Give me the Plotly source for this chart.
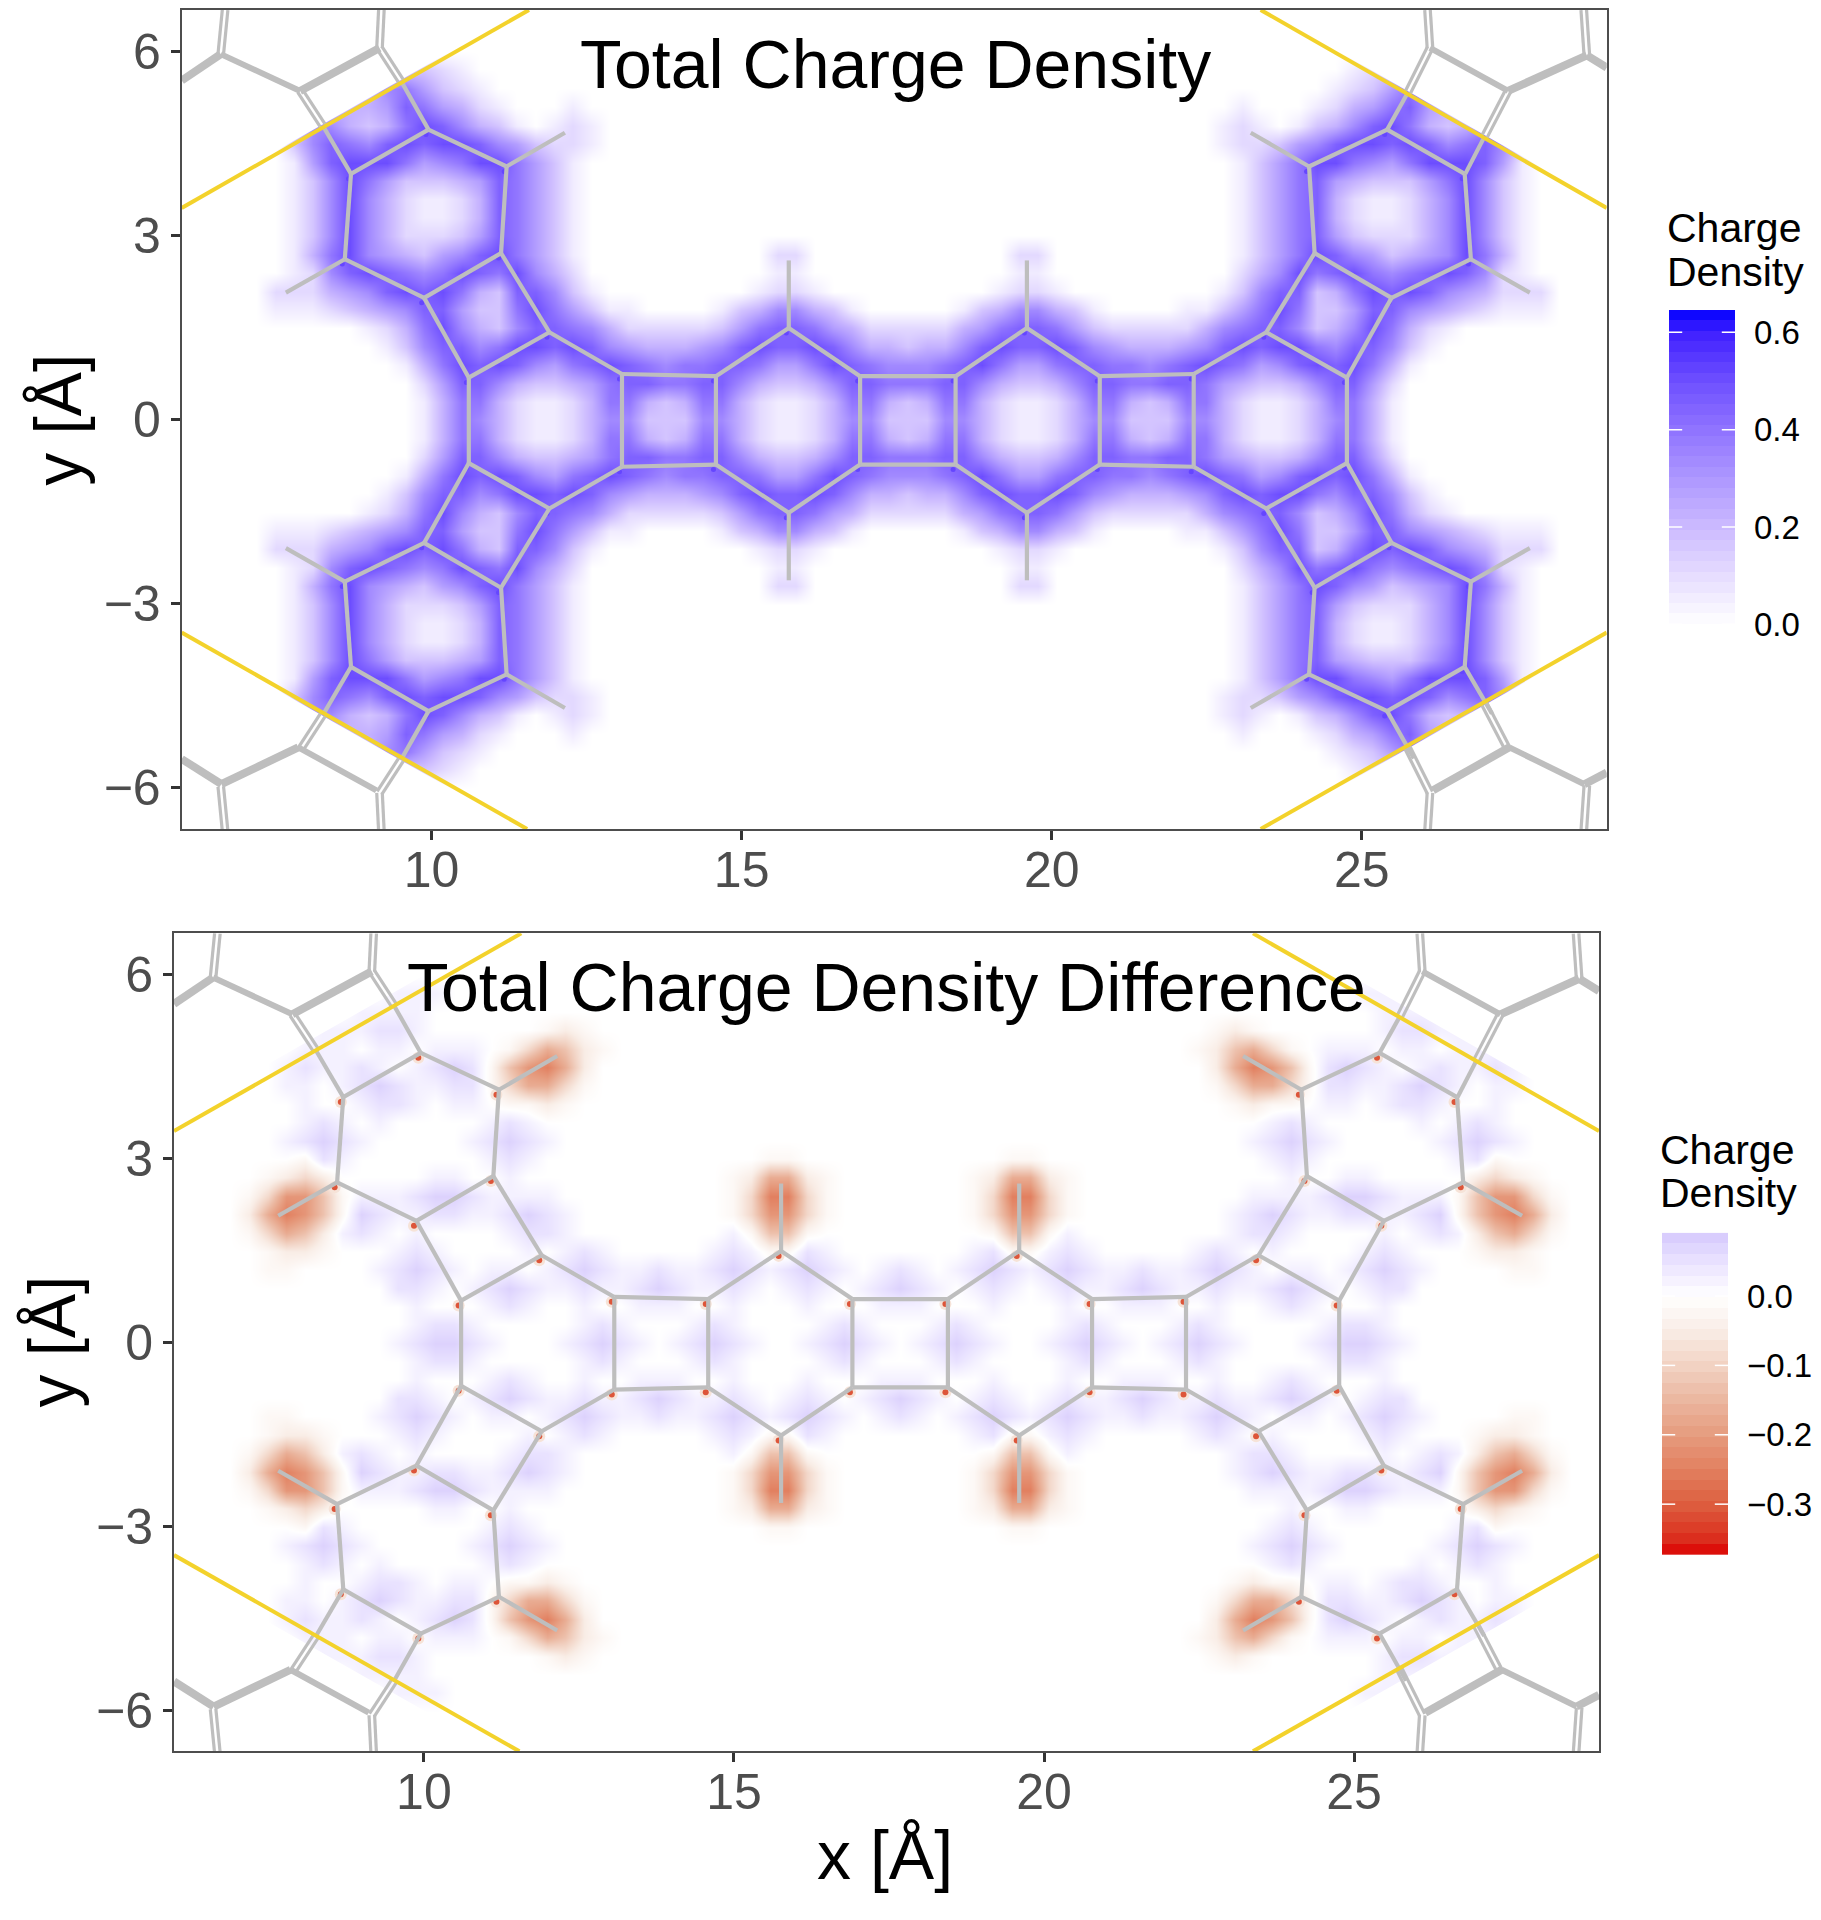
import plotly.graph_objects as go

# Density fields: one quadrant of each map at
# 0.3 A steps (coarse hand-read grid; one character per cell, shown mirrored because
# the picture is mirror-symmetric). Rows run y = 0.0, 0.3 ... upward; columns x = 7.18 ... 17.68.
TOTAL_ROWS = [
    "000000000" + "147642112466333664211246633",
    "000000000" + "147742112477434774211247743",
    "000000000" + "258864334578877886433468877",
    "000000001479898657898767788755798766",
    "000000013688679989865444568988986443",
    "000000" + "124796436887642222235788754222",
    "011123456" + "88" + "533" + "7975311000013466431000",
    "0222456898" + "9743886310" + "0000000122" + "100000",
    "0012689876" + "798796420" + "000000000" + "11" + "000000",
    "0014796543" + "568975310" + "000000000" + "22" + "000000",
    "0013696422235875310",
    "0013696421124875310",
    "0013696421124875310",
    "0013697533345875310",
    "0015899975679975310",
    "0036876898998653221",
    "0036643479864310121",
    "0003444587542100010",
    "0000034675321",
    "000000003321",
    "", "", "",
]
TOTAL_LEVEL = {str(d): d * 0.056 for d in range(10)}

DIFF_ROWS = [
    "000000001233210001232101232100123210",
    "000000000122100000121000121000012100",
    "000000000100012100100111001000100011",
    "000000002210123211211232112101210123",
    "0aa0000" + "12321011012321121123212321012",
    "0abba000" + "121" + "0000" + "1" + "0" + "121" + "00000" + "121" + "aa" + "21" + "0000",
    "acedb" + "121" + "0" + "1" + "0000" + "1221" + "00000000" + "1" + "adda" + "00000",
    "begfda" + "321122112321" + "00000000" + "acffca" + "0000",
    "acffda" + "11123321111" + "000000000" + "acggca" + "0000",
    "0abcb0" + "0000" + "11" + "00" + "1" + "00000000000" + "abeeba" + "0000",
    "000a21" + "0000000" + "121" + "000000000000" + "aa" + "000000",
    "00123210000012321",
    "0001210100000121",
    "0001001221011" + "0aaba0",
    "0011012321122" + "aceeca",
    "0012112101232" + "adfgeb",
    "000" + "111" + "0" + "11" + "0" + "111" + "0" + "acedba",
    "0000" + "111221" + "000000" + "aba",
    "0000001111",
    "00000000111",
    "", "", "",
]
DIFF_LEVEL = {"0": 0.0, "1": 0.025, "2": 0.05, "3": 0.075,
              "a": -0.02, "b": -0.05, "c": -0.09, "d": -0.13, "e": -0.17, "f": -0.21, "g": -0.25}

GRID_X0, GRID_STEP, GRID_COLS = 7.18, 0.3, 36
MIRROR_X, MIRROR_Y = 35.36, -0.03

# Molecule, top-left quadrant
ATOMS = {"a": (10.6, 0.68), "b": (11.9, 1.42), "c": (13.07, 0.74), "d": (14.585, 0.705),
         "e": (15.76, 1.49), "f": (16.91, 0.705), "g": (11.12, 2.71), "h": (9.88, 1.98),
         "i": (8.6, 2.61), "j": (8.7, 4.0), "k": (9.95, 4.72), "l": (11.21, 4.12),
         "H1": (15.76, 2.59), "H2": (7.65, 2.065), "H3": (12.15, 4.67),
         "s": (8.26, 4.76), "t": (9.52, 5.49)}
BONDS = ["ab", "bc", "cd", "de", "ef", "ah", "bg", "gh", "hi", "ij", "jk", "kl", "lg", "js", "kt"]
H_BONDS = [("e", "H1"), ("i", "H2"), ("l", "H3")]
Y_CROSS = ["a", "c", "d", "f"]
X_CROSS = ["f"]
CARBONS = list("abcdefghijkl")

# Periodic images outside the cell
DOUBLE_TOP_LEFT = [((8.26, 4.76), (7.88, 5.35)), ((9.52, 5.49), (9.16, 6.05)),
                   ((6.6, 5.95), (6.67, 6.67)), ((9.16, 6.05), (9.19, 6.67))]
DOUBLE_TOP_RIGHT = [((26.96, 4.57), (27.36, 5.35)), ((25.73, 5.3), (26.1, 6.05)),
                    ((26.1, 6.05), (26.06, 6.67)), ((28.63, 5.93), (28.58, 6.67))]
RIGHT_TOP_SINGLE = [((26.67, 4.0), (26.96, 4.57)), ((25.41, 4.72), (25.73, 5.3))]
WIDE_LINKS = [((7.88, 5.35), (9.16, 6.05)), ((5.97, 5.52), (6.6, 5.95)),
              ((7.85, -5.34), (6.61, -5.94)), ((5.97, -5.53), (6.61, -5.94)),
              ((27.36, 5.35), (28.63, 5.93)), ((28.63, 5.93), (28.95, 5.73)),
              ((26.15, -6.04), (27.38, -5.34)), ((28.59, -5.94), (28.95, -5.75))]
MID_LINKS = [((6.6, 5.95), (7.88, 5.35)), ((7.85, -5.34), (9.11, -6.04)),
             ((26.1, 6.05), (27.36, 5.35)), ((27.38, -5.34), (28.59, -5.94))]

YELLOW = [((5.97, 3.445), (11.57, 6.67)), ((5.97, -3.47), (11.54, -6.67)),
          ((28.95, 3.445), (23.37, 6.67)), ((28.95, -3.47), (23.37, -6.67))]

X_RANGE = [5.97, 28.95]
Y_RANGE = [-6.67, 6.67]
XTICKS = [10, 15, 20, 25]
YTICKS = [-6, -3, 0, 3, 6]

CB1_MAX, CB1_TICKS = 0.646, [0.0, 0.2, 0.4, 0.6]
CB2_MIN, CB2_MAX, CB2_TICKS = -0.3735, 0.0913, [0.0, -0.1, -0.2, -0.3]
CB_BINS = 30

BLUE_STOPS = [(0, "#FFFFFF"), (0.155, "#E6DDFF"), (0.31, "#CBB9FF"), (0.465, "#AD97FF"),
              (0.62, "#8F73FF"), (0.775, "#6E4FFF"), (0.93, "#3F1FFF"), (1, "#0000FF")]
DIFF_STOPS = [(-0.3735, "#DD0000"), (-0.35, "#DB2F1E"), (-0.3, "#DD5F40"), (-0.25, "#E28060"),
              (-0.2, "#E69C7F"), (-0.15, "#EBB7A0"), (-0.1, "#F2D3C4"), (-0.05, "#F9EDE6"),
              (0, "#FFFFFF"), (0.05, "#E9E2FF"), (0.0913, "#D5C8FC"), (0.2, "#AD97FF"), (0.3735, "#0000FF")]

W, H = 1821, 1920
FONT = "Liberation Sans"
GREY = "#BEBEBE"
GOLD = "#F3D22B"


def full_field(rows, level):
    q = [[0.0] + [level[c] for c in r.ljust(GRID_COLS, "0")] for r in rows]
    q = [r + r[-2::-1] for r in q]
    return q[:0:-1] + q


def lines(segs, width, color, xa, ya):
    xs, ys = [], []
    for p, q in segs:
        xs += [p[0], q[0], None]
        ys += [p[1], q[1], None]
    return go.Scatter(x=xs, y=ys, mode="lines", line=dict(color=color, width=width),
                      xaxis=xa, yaxis=ya, hoverinfo="skip", showlegend=False)


def mirrors(p):
    return [p, (MIRROR_X - p[0], p[1]), (p[0], MIRROR_Y - p[1]), (MIRROR_X - p[0], MIRROR_Y - p[1])]


def molecule_segments(names):
    out = []
    for a, b in names:
        out += list(zip(mirrors(ATOMS[a]), mirrors(ATOMS[b])))
    return out


def cross_segments():
    out = []
    for n in Y_CROSS:
        m = mirrors(ATOMS[n])
        out += [(m[0], m[2]), (m[1], m[3])]
    for n in X_CROSS:
        m = mirrors(ATOMS[n])
        out += [(m[0], m[1]), (m[2], m[3])]
    return out


def doubled(segs, gap=0.045):
    out = []
    for p, q in segs:
        dx, dy = q[0] - p[0], q[1] - p[1]
        ln = (dx * dx + dy * dy) ** 0.5
        nx, ny = -dy / ln * gap, dx / ln * gap
        out.append(((p[0] + nx, p[1] + ny), (q[0] + nx, q[1] + ny)))
        out.append(((p[0] - nx, p[1] - ny), (q[0] - nx, q[1] - ny)))
    return out


def flip_y(segs):
    return [((p[0], MIRROR_Y - p[1]), (q[0], MIRROR_Y - q[1])) for p, q in segs]


def mask_polygon(seg, dy):
    p, q = seg
    sy = 1 if p[1] > 0 else -1
    sx = 1 if q[0] > p[0] else -1
    xs = [p[0], q[0] - sx * dy / 0.576, p[0], p[0]]
    ys = [p[1] + sy * dy, q[1], q[1], p[1] + sy * dy]
    return xs, ys


gx = [GRID_X0 - GRID_STEP + GRID_STEP * i for i in range(2 * GRID_COLS + 1)]
gy = [round(-0.015 + GRID_STEP * k, 3) for k in range(-(len(TOTAL_ROWS) - 1), len(TOTAL_ROWS))]

fig = go.Figure()


def add_panel(field, coloraxis, xa, ya, mask_dy, dot_groups):
    fig.add_trace(go.Heatmap(x=gx, y=gy, z=field, coloraxis=coloraxis, zsmooth="best",
                             xaxis=xa, yaxis=ya, hoverinfo="skip"))
    for seg in YELLOW:
        mx, my = mask_polygon(seg, mask_dy)
        fig.add_trace(go.Scatter(x=mx, y=my, mode="lines", fill="toself", fillcolor="white",
                                 line=dict(width=0, color="white"), xaxis=xa, yaxis=ya,
                                 hoverinfo="skip", showlegend=False))
    dx, dy = [], []
    for n in CARBONS:
        for p in mirrors(ATOMS[n]):
            dx.append(p[0] - 0.04)
            dy.append(p[1] - 0.08)
    for size, val in dot_groups:
        fig.add_trace(go.Scatter(x=dx, y=dy, mode="markers",
                                 marker=dict(size=size, color=[val] * len(dx), coloraxis=coloraxis, line=dict(width=0)),
                                 xaxis=xa, yaxis=ya, hoverinfo="skip", showlegend=False))
    right_top_ends = [mirrors(ATOMS["s"])[1], mirrors(ATOMS["t"])[1]]
    main = [s for s in molecule_segments(BONDS) + cross_segments() if s[1] not in right_top_ends]
    main += RIGHT_TOP_SINGLE
    main += molecule_segments(H_BONDS)
    fig.add_trace(lines(main, 4.2, GREY, xa, ya))
    dbl = doubled(DOUBLE_TOP_LEFT) + doubled(flip_y(DOUBLE_TOP_LEFT)) + doubled(DOUBLE_TOP_RIGHT) + doubled(flip_y(DOUBLE_TOP_RIGHT))
    fig.add_trace(lines(dbl, 3.2, GREY, xa, ya))
    fig.add_trace(lines(WIDE_LINKS, 8, GREY, xa, ya))
    fig.add_trace(lines(MID_LINKS, 6, GREY, xa, ya))
    fig.add_trace(lines(YELLOW, 4, GOLD, xa, ya))


add_panel(full_field(TOTAL_ROWS, TOTAL_LEVEL), "coloraxis", "x", "y", 0.05, [(5, 0.52)])
add_panel(full_field(DIFF_ROWS, DIFF_LEVEL), "coloraxis2", "x2", "y2", 0.22, [(12, -0.07), (6, -0.31)])


def legend_bar(lo, hi, ticks, coloraxis, xa, ya):
    edges = [lo + (hi - lo) * i / CB_BINS for i in range(CB_BINS + 1)]
    z = [[(edges[i] + edges[i + 1]) / 2] for i in range(CB_BINS)]
    fig.add_trace(go.Heatmap(x=[0, 1], y=edges, z=z, coloraxis=coloraxis, xaxis=xa, yaxis=ya, hoverinfo="skip"))
    segs = []
    for t in ticks:
        segs += [((0, t), (0.2, t)), ((0.8, t), (1, t))]
    fig.add_trace(lines(segs, 1.5, "white", xa, ya))


legend_bar(0, CB1_MAX, CB1_TICKS, "coloraxis", "x3", "y3")
legend_bar(CB2_MIN, CB2_MAX, CB2_TICKS, "coloraxis2", "x4", "y4")


def stops(lst, lo, hi):
    return [[(v - lo) / (hi - lo), c] for v, c in lst]


def pxx(a, b):
    return [a / W, b / W]


def pxy(top, bottom):
    return [1 - bottom / H, 1 - top / H]


axis_common = dict(showgrid=False, zeroline=False, showline=True, mirror=True, linecolor="#4D4D4D", linewidth=2,
                   ticks="outside", ticklen=9, tickwidth=3, tickcolor="#333333",
                   tickfont=dict(family=FONT, size=50, color="#4D4D4D"))

fig.update_layout(
    width=W, height=H, margin=dict(l=0, r=0, t=0, b=0), paper_bgcolor="white", plot_bgcolor="white",
    showlegend=False, font=dict(family=FONT),
    coloraxis=dict(cmin=0, cmax=CB1_MAX, colorscale=[[t, c] for t, c in BLUE_STOPS], showscale=False),
    coloraxis2=dict(cmin=-0.3735, cmax=0.3735, colorscale=stops(DIFF_STOPS, -0.3735, 0.3735), showscale=False),
    xaxis=dict(domain=pxx(181.7, 1606.7), range=X_RANGE, tickvals=XTICKS, anchor="y", ticklabelstandoff=-13, **axis_common),
    yaxis=dict(domain=pxy(10, 837.3), range=Y_RANGE, tickvals=YTICKS, anchor="x", **axis_common),
    xaxis2=dict(domain=pxx(174, 1599), range=X_RANGE, tickvals=XTICKS, anchor="y2", ticklabelstandoff=-13, **axis_common),
    yaxis2=dict(domain=pxy(942.7, 1768.8), range=Y_RANGE, tickvals=YTICKS, anchor="x2", **axis_common),
    xaxis3=dict(domain=pxx(1669, 1735), range=[0, 1], visible=False, anchor="y3"),
    yaxis3=dict(domain=pxy(313, 630.6), range=[0, CB1_MAX], side="right", anchor="x3", showgrid=False, zeroline=False,
                showline=False, ticks="", tickvals=CB1_TICKS, tickformat=".1f", ticklabelstandoff=18,
                tickfont=dict(family=FONT, size=33, color="black")),
    xaxis4=dict(domain=pxx(1662, 1728), range=[0, 1], visible=False, anchor="y4"),
    yaxis4=dict(domain=pxy(1245, 1570.7), range=[CB2_MIN, CB2_MAX], side="right", anchor="x4", showgrid=False, zeroline=False,
                showline=False, ticks="", tickvals=CB2_TICKS, tickformat=".1f", ticklabelstandoff=18,
                tickfont=dict(family=FONT, size=33, color="black")),
)


def text(s, x, y, size, color="black", angle=0, anchor="center"):
    fig.add_annotation(text=s, x=x / W, y=1 - y / H, xref="paper", yref="paper", showarrow=False,
                       xanchor=anchor, yanchor="middle", textangle=angle,
                       font=dict(family=FONT, size=size, color=color))


text("Total Charge Density", 895.5, 65, 68)
text("Total Charge Density Difference", 886, 997, 68)
text("y [Å]", 58, 424, 66, angle=-90)
text("y [Å]", 52, 1355, 66, angle=-90)
text("x [Å]", 885, 1874, 68)
text("Charge", 1665, 230, 41, anchor="left")
text("Density", 1665, 275, 41, anchor="left")
text("Charge", 1658, 1161, 41, anchor="left")
text("Density", 1658, 1205, 41, anchor="left")

fig.write_html("out.html", config={"displayModeBar": False}, post_script="document.body.style.margin='0';")
